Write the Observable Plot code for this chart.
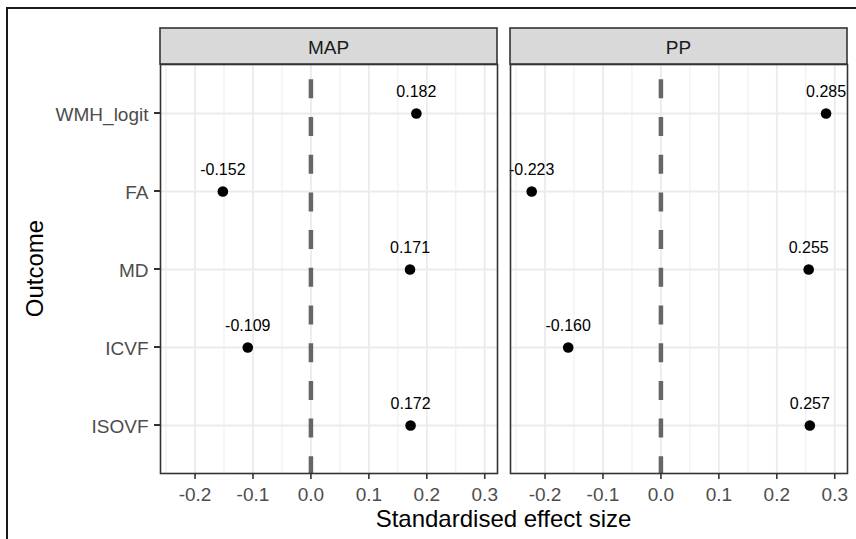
<!DOCTYPE html>
<html>
<head>
<meta charset="utf-8">
<script src="https://cdn.jsdelivr.net/npm/d3@7"></script>
<script src="https://cdn.jsdelivr.net/npm/@observablehq/plot@0.6"></script>
<style>
  html, body { margin: 0; padding: 0; background: white; overflow: hidden; }
  #chart { position: relative; width: 856px; height: 539px; }
</style>
</head>
<body>
<div id="chart"></div>
<script>
const outcomes = ["WMH_logit", "FA", "MD", "ICVF", "ISOVF"];
const panels = ["MAP", "PP"];
const mapValues = [0.182, -0.152, 0.171, -0.109, 0.172];
const ppValues = [0.285, -0.223, 0.255, -0.160, 0.257];
const xTicks = [-0.2, -0.1, 0.0, 0.1, 0.2, 0.3];
const xMinorTicks = [-0.25, -0.15, -0.05, 0.05, 0.15, 0.25];
const xTitle = "Standardised effect size";
const yTitle = "Outcome";

const seriesByPanel = { MAP: mapValues, PP: ppValues };
const data = panels.flatMap(p => outcomes.map((o, j) => ({ panel: p, outcome: o, value: seriesByPanel[p][j] })));

const W = 856, H = 539;
const mL = 160, mR = 9, mT = 64, mB = 66;
const xDomain = [-0.2596, 0.322];
const FONT = "'Liberation Sans', Arial, Helvetica, sans-serif";

const plot = Plot.plot({
  width: W, height: H,
  marginLeft: mL, marginRight: mR, marginTop: mT, marginBottom: mB,
  style: { fontFamily: FONT, background: "white", overflow: "visible" },
  fx: { domain: panels, paddingInner: 13 / 350, paddingOuter: 0, axis: null, label: null },
  x: { domain: xDomain, axis: null, label: null },
  y: { type: "point", domain: outcomes, padding: 0.6, axis: null, label: null },
  marks: [
    Plot.gridX(xMinorTicks, { stroke: "#EBEBEB", strokeOpacity: 1, strokeWidth: 0.9 }),
    Plot.gridX(xTicks, { stroke: "#EBEBEB", strokeOpacity: 1, strokeWidth: 1.8 }),
    Plot.gridY(outcomes, { stroke: "#EBEBEB", strokeOpacity: 1, strokeWidth: 1.8 }),
    Plot.ruleX([0], { stroke: "#666666", strokeWidth: 4.5, strokeDasharray: "19,18.7", strokeDashoffset: 22.4 }),
    Plot.dot(data, { x: "value", y: "outcome", fx: "panel", r: 5.3, fill: "black", stroke: null }),
    Plot.text(data, { x: "value", y: "outcome", fx: "panel", text: d => d.value.toFixed(3), dy: -22, fontSize: 16, fill: "black" }),
    Plot.frame({ stroke: "#333333", strokeWidth: 1.6 }),
    Plot.axisX(xTicks, { tickSize: 6, tickPadding: 7.5, fontSize: 19, fill: "#4D4D4D", stroke: "#333333", strokeWidth: 1.6, tickFormat: d => d.toFixed(1), label: null }),
    Plot.axisY({ tickSize: 0, tickPadding: 12, fontSize: 19, fill: "#4D4D4D", dy: 1.5, label: null })
  ]
});

document.getElementById("chart").appendChild(plot);

const svg = d3.select(plot);
const fx = plot.scale("fx");
const yScale = plot.scale("y");

// y-axis ticks on the left panel, positioned with Plot's y scale
const yt = svg.append("g").attr("class", "y-ticks").attr("stroke", "#333333").attr("stroke-width", 2);
outcomes.forEach(o => {
  const y = yScale.apply(o);
  yt.append("line").attr("x1", mL - 6).attr("x2", mL).attr("y1", y).attr("y2", y);
});

const strips = svg.append("g").attr("class", "strips");
panels.forEach(p => {
  const x0 = fx.apply(p);
  strips.append("rect")
    .attr("x", x0).attr("y", 28)
    .attr("width", fx.bandwidth).attr("height", mT - 28)
    .attr("fill", "#D9D9D9").attr("stroke", "#333333").attr("stroke-width", 1.6);
  strips.append("text")
    .attr("x", x0 + fx.bandwidth / 2).attr("y", 53.5)
    .attr("text-anchor", "middle")
    .attr("font-family", FONT).attr("font-size", 19).attr("fill", "#1A1A1A")
    .text(p);
});

svg.append("text")
  .attr("x", (mL + W - mR) / 2).attr("y", 527)
  .attr("text-anchor", "middle")
  .attr("font-family", FONT).attr("font-size", 24).attr("fill", "black")
  .text(xTitle);

svg.append("text")
  .attr("transform", `translate(43.3,${(mT + H - mB) / 2}) rotate(-90)`)
  .attr("text-anchor", "middle")
  .attr("font-family", FONT).attr("font-size", 24).attr("fill", "black")
  .text(yTitle);

svg.append("path")
  .attr("d", "M7,620V8H920")
  .attr("fill", "none").attr("stroke", "#1A1A1A").attr("stroke-width", 2);
</script>
</body>
</html>
